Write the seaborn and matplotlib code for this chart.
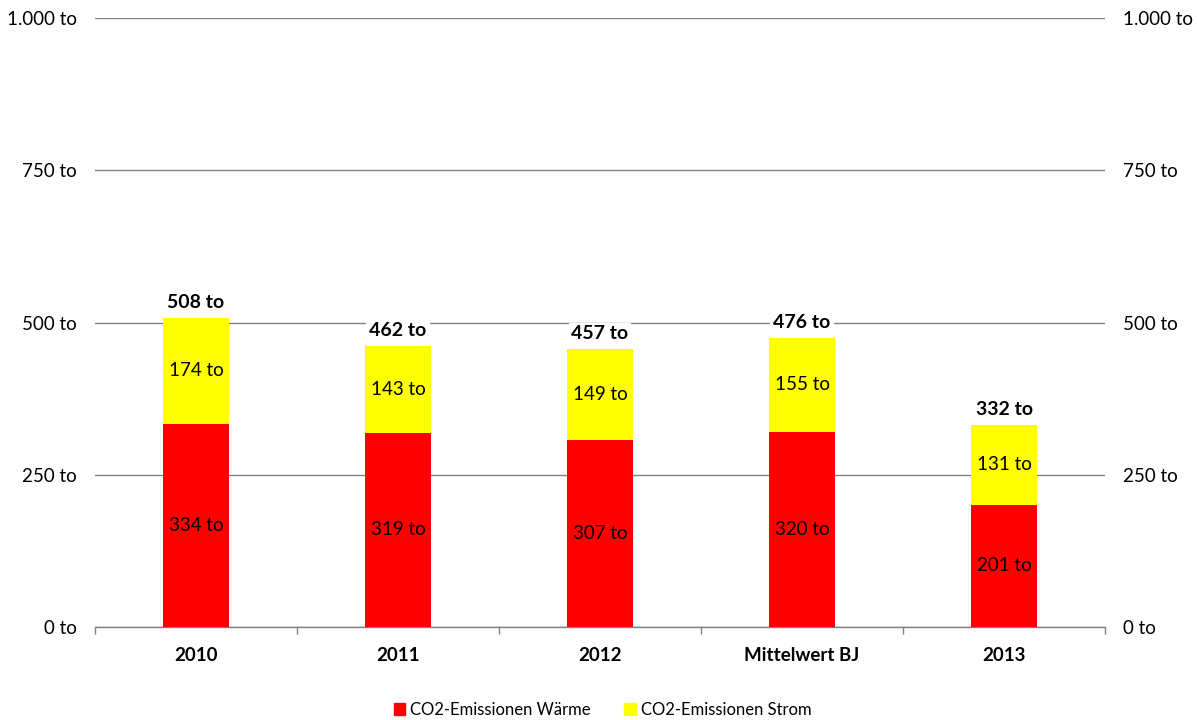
import matplotlib
matplotlib.use("Agg")
import matplotlib.pyplot as plt
import seaborn as sns
import pandas as pd
import numpy as np

categories = ["2010", "2011", "2012", "Mittelwert BJ", "2013"]
waerme = [334, 319, 307, 320, 201]
strom = [174, 143, 149, 155, 131]
totals = [508, 462, 457, 476, 332]
y_ticks = [0, 250, 500, 750, 1000]
y_tick_labels = ["0 to", "250 to", "500 to", "750 to", "1.000 to"]

sns.set_theme(style="white")
plt.rcParams["font.family"] = ["Lato", "DejaVu Sans"]
plt.rcParams["text.color"] = "black"
plt.rcParams["xtick.color"] = "black"
plt.rcParams["ytick.color"] = "black"

df = pd.DataFrame({
    "Kategorie": categories,
    "Wärme": waerme,
    "Strom": strom,
})
df["Gesamt"] = df["Wärme"] + df["Strom"]

fig = plt.figure(figsize=(11.98, 7.2), dpi=100)
ax = fig.add_axes([0.0793, 0.129, 0.8431, 0.846])

red = "#FF0000"
yellow = "#FFFF00"
bar_w = 0.33

# stacked bars: full stack in yellow, heat share in red on top
sns.barplot(data=df, x="Kategorie", y="Gesamt", color=yellow, width=bar_w,
            saturation=1, linewidth=0, ax=ax, zorder=3)
sns.barplot(data=df, x="Kategorie", y="Wärme", color=red, width=bar_w,
            saturation=1, linewidth=0, ax=ax, zorder=3)

ax.set_ylim(0, 1000)
ax.set_xlim(-0.5, len(categories) - 0.5)
ax.set_yticks(y_ticks)
ax.set_yticklabels(y_tick_labels, fontsize=13.5)
ax.yaxis.grid(True, color="#808080", linewidth=1)
ax.set_axisbelow(True)
ax.tick_params(axis="y", length=0, pad=13, labelcolor="black")
ax.set_xlabel("")
ax.set_ylabel("")
for s in ["left", "right", "top"]:
    ax.spines[s].set_visible(False)
ax.spines["bottom"].set_color("#808080")
ax.spines["bottom"].set_linewidth(1)

# category labels centered, tick marks at the category boundaries
ax.set_xticks(np.arange(len(categories)))
ax.set_xticklabels(categories, fontsize=13.5, fontweight="bold")
ax.tick_params(axis="x", length=0, pad=14, labelcolor="black")
ax.set_xticks(np.arange(len(categories) + 1) - 0.5, minor=True)
ax.tick_params(axis="x", which="minor", direction="out", length=5,
               color="#808080", width=1, bottom=True)

# right-hand axis mirrors the left
ax2 = ax.twinx()
ax2.set_ylim(ax.get_ylim())
ax2.set_yticks(y_ticks)
ax2.set_yticklabels(y_tick_labels, fontsize=13.5)
ax2.tick_params(axis="y", length=0, pad=13, labelcolor="black")
for s in ["left", "right", "top", "bottom"]:
    ax2.spines[s].set_visible(False)

# value labels
for i, (w, s, t) in enumerate(zip(waerme, strom, totals)):
    ax.text(i, w / 2, f"{w} to", ha="center", va="center", fontsize=13.5,
            color="black", zorder=5)
    ax.text(i, w + s / 2, f"{s} to", ha="center", va="center", fontsize=13.5,
            color="black", zorder=5)
    ax.annotate(f"{t} to", xy=(i, w + s), xytext=(0, 5), textcoords="offset points",
                ha="center", va="bottom", fontsize=14, fontweight="bold",
                color="black", zorder=6,
                bbox=dict(boxstyle="square,pad=0.15", fc="white", ec="none"))

handles = [plt.Rectangle((0, 0), 1, 1, color=red),
           plt.Rectangle((0, 0), 1, 1, color=yellow)]
fig.legend(handles, ["CO2-Emissionen Wärme", "CO2-Emissionen Strom"],
           loc="lower center", bbox_to_anchor=(0.503, -0.018), ncol=2, frameon=False,
           fontsize=12, handlelength=0.7, handleheight=0.7, handletextpad=0.3,
           columnspacing=2.0)

fig.savefig("out.png", dpi=100)
